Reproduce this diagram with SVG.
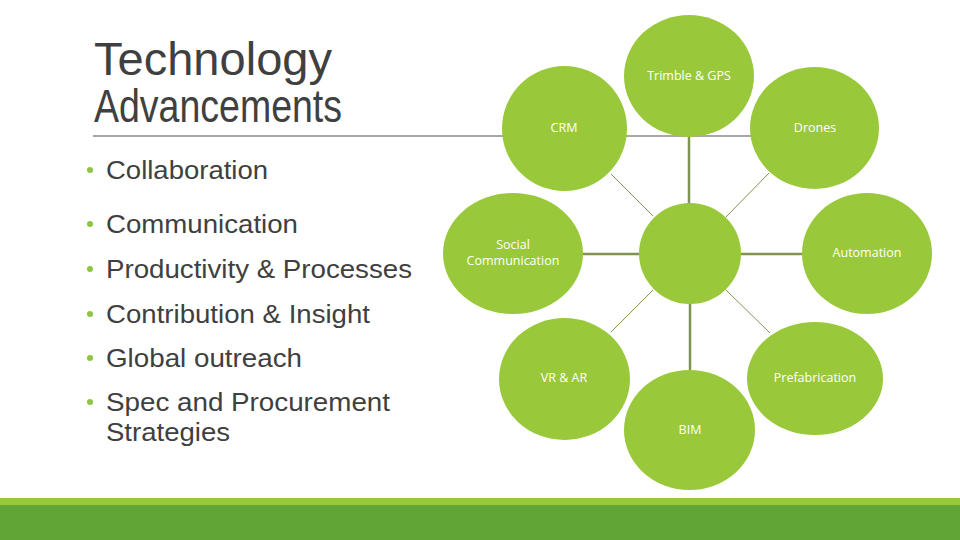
<svg xmlns="http://www.w3.org/2000/svg" width="960" height="540" viewBox="0 0 960 540">
  <style>
    .title { font-family: "Liberation Sans", Arial, sans-serif; font-size: 46px; fill: #404040; }
    .bullet { font-family: "Liberation Sans", Arial, sans-serif; font-size: 26px; fill: #404040; }
    .dot { fill: #8dc63f; }
    .node { fill: #99c93b; }
    .lbl { font-family: "Open Sans", "Liberation Sans", sans-serif; font-size: 12.5px; fill: #ffffff; text-anchor: middle; }
    .thick { stroke: #7f9450; stroke-width: 2.5; fill: none; }
    .thin { stroke: #7f9450; stroke-width: 1; fill: none; }
  </style>
  <rect x="0" y="0" width="960" height="540" fill="#ffffff"/>

  <g id="title">
    <text class="title" x="94" y="75" textLength="238" lengthAdjust="spacingAndGlyphs">Technology</text>
    <text class="title" x="94" y="122" textLength="248" lengthAdjust="spacingAndGlyphs">Advancements</text>
    <line x1="93" y1="136" x2="800" y2="136" stroke="#8a8a8a" stroke-width="1.5"/>
  </g>

  <g id="bullets">
    <circle class="dot" cx="90" cy="170" r="3"/>
    <text class="bullet" x="106" y="179" textLength="162" lengthAdjust="spacingAndGlyphs">Collaboration</text>
    <circle class="dot" cx="90" cy="224" r="3"/>
    <text class="bullet" x="106" y="233" textLength="192" lengthAdjust="spacingAndGlyphs">Communication</text>
    <circle class="dot" cx="90" cy="269" r="3"/>
    <text class="bullet" x="106" y="278" textLength="306" lengthAdjust="spacingAndGlyphs">Productivity &amp; Processes</text>
    <circle class="dot" cx="90" cy="314" r="3"/>
    <text class="bullet" x="106" y="323" textLength="264" lengthAdjust="spacingAndGlyphs">Contribution &amp; Insight</text>
    <circle class="dot" cx="90" cy="358" r="3"/>
    <text class="bullet" x="106" y="367" textLength="196" lengthAdjust="spacingAndGlyphs">Global outreach</text>
    <circle class="dot" cx="90" cy="402" r="3"/>
    <text class="bullet" x="106" y="411" textLength="284" lengthAdjust="spacingAndGlyphs">Spec and Procurement</text>
    <text class="bullet" x="106" y="441" textLength="124" lengthAdjust="spacingAndGlyphs">Strategies</text>
  </g>

  <g id="connectors">
    <line class="thick" x1="689" y1="130" x2="689" y2="210"/>
    <line class="thick" x1="690" y1="298" x2="690" y2="376"/>
    <line class="thick" x1="578" y1="254" x2="645" y2="254"/>
    <line class="thick" x1="735" y1="254" x2="808" y2="254"/>
    <line class="thin" x1="611" y1="174" x2="653" y2="216"/>
    <line class="thin" x1="769" y1="173" x2="726" y2="217"/>
    <line class="thin" x1="611" y1="332" x2="653" y2="290"/>
    <line class="thin" x1="770" y1="333" x2="726" y2="290"/>
  </g>

  <g id="node-trimble">
    <ellipse class="node" cx="689" cy="76" rx="65" ry="61"/>
    <text class="lbl" x="689" y="80">Trimble &amp; GPS</text>
  </g>
  <g id="node-crm">
    <ellipse class="node" cx="564.5" cy="128.5" rx="62.5" ry="62.5"/>
    <text class="lbl" x="564" y="132">CRM</text>
  </g>
  <g id="node-drones">
    <ellipse class="node" cx="814.5" cy="128" rx="64.5" ry="61"/>
    <text class="lbl" x="815" y="132">Drones</text>
  </g>
  <g id="node-center">
    <ellipse class="node" cx="690" cy="253.5" rx="51" ry="50.5"/>
  </g>
  <g id="node-social">
    <ellipse class="node" cx="513" cy="253.5" rx="70" ry="60.5"/>
    <text class="lbl" x="513" y="249">Social</text>
    <text class="lbl" x="513" y="265">Communication</text>
  </g>
  <g id="node-automation">
    <ellipse class="node" cx="867" cy="253.5" rx="65" ry="60.5"/>
    <text class="lbl" x="867" y="257">Automation</text>
  </g>
  <g id="node-vrar">
    <ellipse class="node" cx="564.5" cy="379" rx="65.5" ry="61"/>
    <text class="lbl" x="564" y="382">VR &amp; AR</text>
  </g>
  <g id="node-prefab">
    <ellipse class="node" cx="815" cy="378.5" rx="68" ry="56.5"/>
    <text class="lbl" x="815" y="382">Prefabrication</text>
  </g>
  <g id="node-bim">
    <ellipse class="node" cx="689.5" cy="430" rx="65.5" ry="60"/>
    <text class="lbl" x="690" y="434">BIM</text>
  </g>

  <g id="footer">
    <rect x="0" y="498" width="960" height="7" fill="#96c93d"/>
    <rect x="0" y="505" width="960" height="35" fill="#62a537"/>
  </g>
</svg>
